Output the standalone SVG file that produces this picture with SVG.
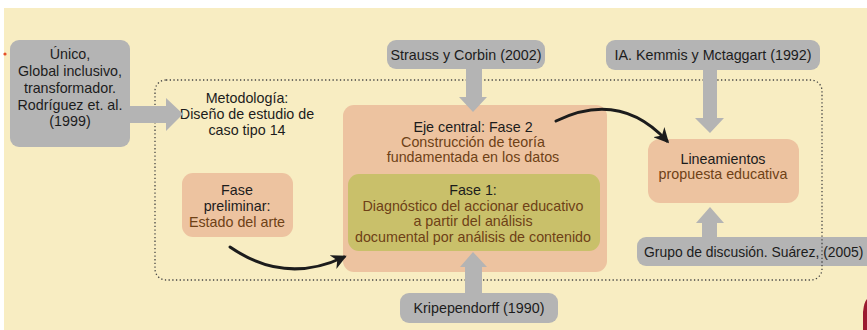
<svg xmlns="http://www.w3.org/2000/svg" width="867" height="330" viewBox="0 0 867 330">
<defs>
<style>
text{font-family:"Liberation Sans",Arial,sans-serif;font-size:14.3px;text-anchor:middle;fill:#1c1c1c}
.br{fill:#6e4116}
.g{fill:#b4b4b4}
.s{fill:#edc3a0}
.o{fill:#c9c06a}
.dot{fill:none;stroke:#444;stroke-width:1.3;stroke-dasharray:1.3 2.4}
.cur{fill:none;stroke:#1c1c1c;stroke-width:3;stroke-linecap:round}
</style>
<marker id="ah" viewBox="0 0 10 10" refX="8" refY="5" markerWidth="5" markerHeight="5" orient="auto" markerUnits="strokeWidth">
<path d="M0,0 L10,5 L0,10 L3,5 Z" fill="#1c1c1c"/>
</marker>
</defs>
<rect x="0" y="0" width="867" height="330" fill="#ffffff"/>
<rect x="4" y="8" width="863" height="322" fill="#f8edc2"/>
<circle cx="5" cy="54" r="1.6" fill="#e5502a"/>
<path d="M863,330 L863,312 Q864,302 867,299 L867,330 Z" fill="#9b1b30"/>

<g id="grupo">
<rect class="g" x="637" y="237" width="240" height="29" rx="9"/>
<text x="644" y="257" style="text-anchor:start;font-size:13.9px">Grupo de discusión. Suárez, (2005)</text>
</g>

<rect class="dot" x="155" y="80" width="667" height="200" rx="11"/>

<g id="unico">
<rect class="g" x="10" y="40" width="120" height="107" rx="9"/>
<text x="70" y="59">Único,</text>
<text x="70" y="76">Global inclusivo,</text>
<text x="70" y="93">transformador.</text>
<text x="70" y="110">Rodríguez et. al.</text>
<text x="70" y="126">(1999)</text>
</g>

<g id="metodologia">
<text x="247" y="103">Metodología:</text>
<text x="247" y="119">Diseño de estudio de</text>
<text x="247" y="135">caso tipo 14</text>
</g>

<g id="strauss">
<rect class="g" x="387" y="40" width="158" height="29" rx="9"/>
<text x="466" y="60">Strauss y Corbin (2002)</text>
</g>

<g id="kemmis">
<rect class="g" x="606" y="40" width="214" height="30" rx="9"/>
<text x="713" y="60">IA. Kemmis y Mctaggart (1992)</text>
</g>

<g id="fase2">
<rect class="s" x="343" y="105" width="264" height="167" rx="11"/>
<text x="473" y="132">Eje central: Fase 2</text>
<text class="br" x="473" y="147">Construcción de teoría</text>
<text class="br" x="473" y="162">fundamentada en los datos</text>
</g>

<g id="fase1">
<rect class="o" x="348" y="174" width="252" height="77" rx="11"/>
<text x="473" y="195">Fase 1:</text>
<text class="br" x="473" y="211">Diagnóstico del accionar educativo</text>
<text class="br" x="473" y="226">a partir del análisis</text>
<text class="br" x="473" y="242">documental por análisis de contenido</text>
</g>

<g id="kripependorff">
<rect class="g" x="400" y="293" width="158" height="30" rx="9"/>
<text x="479" y="313">Kripependorff (1990)</text>
</g>

<g id="lineamientos">
<rect class="s" x="648" y="139" width="151" height="64" rx="12"/>
<text x="723" y="164">Lineamientos</text>
<text class="br" x="723" y="179">propuesta educativa</text>
</g>

<g id="preliminar">
<rect class="s" x="182" y="173" width="111" height="64" rx="11"/>
<text x="237" y="195">Fase</text>
<text x="237" y="211">preliminar:</text>
<text class="br" x="237" y="227">Estado del arte</text>
</g>

<g id="connectors">
<path class="g" d="M130,106 H166 V98 L183,114 L166,131 V123 H130 Z"/>
<path class="g" d="M466,69 V97 H459 L473,112 L487,97 H482 V69 Z"/>
<path class="g" d="M465,293 V267 H460 L473,252 L487,267 H482 V293 Z"/>
<path class="g" d="M703,70 V118 H695 L710,133 L724,118 H717 V70 Z"/>
<path class="g" d="M702,237 V223 H696 L710,207 L724,223 H717 V237 Z"/>
<path class="cur" d="M230,247 Q285,285 344,257" marker-end="url(#ah)"/>
<path class="cur" d="M556,121 Q620,90 667,141" marker-end="url(#ah)"/>
</g>
</svg>
